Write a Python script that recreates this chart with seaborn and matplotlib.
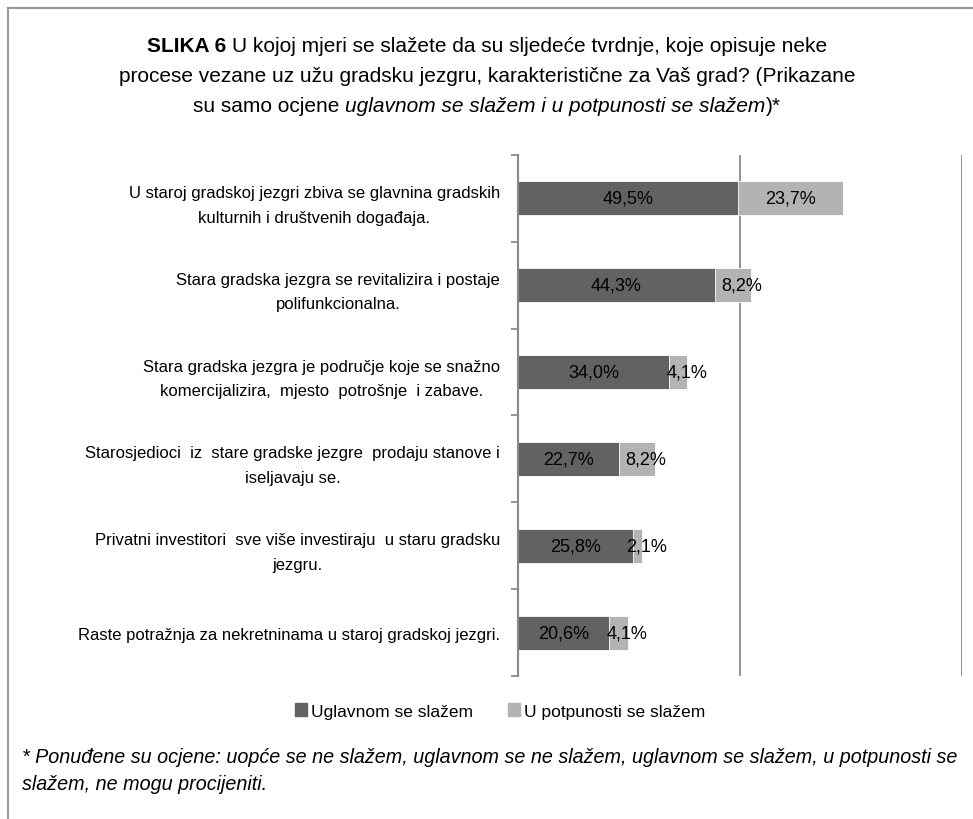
import pandas as pd
import matplotlib
matplotlib.use("Agg")
import matplotlib.pyplot as plt
import matplotlib.patches as mpatches
from matplotlib import font_manager
import seaborn as sns

categories = [
    "U staroj gradskoj jezgri zbiva se glavnina gradskih\nkulturnih i društvenih događaja.",
    "Stara gradska jezgra se revitalizira i postaje\npolifunkcionalna.",
    "Stara gradska jezgra je područje koje se snažno\nkomercijalizira,  mjesto  potrošnje  i zabave.",
    "Starosjedioci  iz  stare gradske jezgre  prodaju stanove i\niseljavaju se.",
    "Privatni investitori  sve više investiraju  u staru gradsku\njezgru.",
    "Raste potražnja za nekretninama u staroj gradskoj jezgri.",
]
uglavnom = [49.5, 44.3, 34.0, 22.7, 25.8, 20.6]
potpuno = [23.7, 8.2, 4.1, 8.2, 2.1, 4.1]
series_names = ["Uglavnom se slažem", "U potpunosti se slažem"]

dark = "#626262"
light = "#b3b3b3"
grey = "#8a8a8a"

sns.set_style("white")
names = {f.name for f in font_manager.fontManager.ttflist}
main_font = "Liberation Sans Narrow" if "Liberation Sans Narrow" in names else "Liberation Sans"
plt.rcParams["font.family"] = [main_font, "DejaVu Sans"]
plt.rcParams["text.color"] = "black"
plt.rcParams["ytick.color"] = "black"

df = pd.DataFrame({"kategorija": categories, "uglavnom": uglavnom, "potpuno": potpuno})
df["ukupno"] = df["uglavnom"] + df["potpuno"]

fig = plt.figure(figsize=(9.73, 8.2), dpi=100)
ax = fig.add_axes([518 / 973, 1 - 677 / 820, (962 - 518) / 973, (677 - 156) / 820])

sns.barplot(data=df, x="ukupno", y="kategorija", color=light, width=0.39,
            edgecolor="white", linewidth=0.6, ax=ax, orient="h")
sns.barplot(data=df, x="uglavnom", y="kategorija", color=dark, width=0.39,
            edgecolor="white", linewidth=0.6, ax=ax, orient="h")

ax.set_xlim(0, 100)
ax.set_ylim(5.5, -0.5)
ax.set_xlabel("")
ax.set_ylabel("")
ax.set_xticks([])
for gx in [50, 100]:
    ax.axvline(gx, color=grey, lw=1.3, zorder=0)

# category separators as ticks, labels in between
ax.set_yticks([i - 0.5 for i in range(len(categories) + 1)])
ax.set_yticklabels([])
ax.set_yticks(range(len(categories)), minor=True)
ax.set_yticklabels(categories, minor=True, fontsize=12, linespacing=1.8,
                   multialignment="center", color="black")
ax.tick_params(axis="y", which="major", length=5, width=1.3, color=grey, left=True)
ax.tick_params(axis="y", which="minor", length=0, pad=13)

for s in ["top", "right", "bottom"]:
    ax.spines[s].set_visible(False)
ax.spines["left"].set_color(grey)
ax.spines["left"].set_linewidth(1.5)

for i, (a, b) in enumerate(zip(uglavnom, potpuno)):
    ax.text(a / 2, i, f"{a:.1f}%".replace(".", ","), ha="center", va="center",
            fontsize=13, color="black")
    off = 0 if b > 10 else 2
    ax.text(a + b / 2 + off, i, f"{b:.1f}%".replace(".", ","), ha="center",
            va="center", fontsize=13, color="black")

# legend
handles = [mpatches.Patch(color=dark, label=series_names[0]),
           mpatches.Patch(color=light, label=series_names[1])]
fig.legend(handles=handles, loc="center", bbox_to_anchor=(500 / 973, 1 - 712 / 820),
           ncol=2, frameon=False, fontsize=12.5, handlelength=0.7, handleheight=0.7,
           handletextpad=0.25, columnspacing=2.0)

# title with mixed styles
renderer = fig.canvas.get_renderer()
title_lines = [
    [("SLIKA 6 ", "bold", "normal"),
     ("U kojoj mjeri se slažete da su sljedeće tvrdnje, koje opisuje neke", "normal", "normal")],
    [("procese vezane uz užu gradsku jezgru, karakteristične za Vaš grad? (Prikazane", "normal", "normal")],
    [("su samo ocjene ", "normal", "normal"),
     ("uglavnom se slažem i u potpunosti se slažem", "normal", "italic"),
     (")*", "normal", "normal")],
]
title_y = [47, 77, 106]
for parts, ypx in zip(title_lines, title_y):
    texts = []
    for s, w, st in parts:
        t = fig.text(0, 1 - ypx / 820, s, fontsize=15, fontweight=w, fontstyle=st,
                     va="center", ha="left")
        texts.append(t)
    widths = [t.get_window_extent(renderer).width / fig.bbox.width for t in texts]
    x = 487 / 973 - sum(widths) / 2
    for t, w in zip(texts, widths):
        t.set_x(x)
        x += w

fig.text(22 / 973, 1 - 771 / 820,
         "* Ponuđene su ocjene: uopće se ne slažem, uglavnom se ne slažem, uglavnom se slažem, u potpunosti se\n"
         "slažem, ne mogu procijeniti.",
         fontsize=14.2, fontstyle="italic", va="center", ha="left", linespacing=1.55)

fig.patches.append(mpatches.Rectangle((8 / 973, -0.1), 1.2, 1 - 9 / 820 + 0.1,
                                      transform=fig.transFigure, fill=False,
                                      edgecolor="#9a9a9a", lw=1.5))

plt.savefig("out.png", dpi=100)
